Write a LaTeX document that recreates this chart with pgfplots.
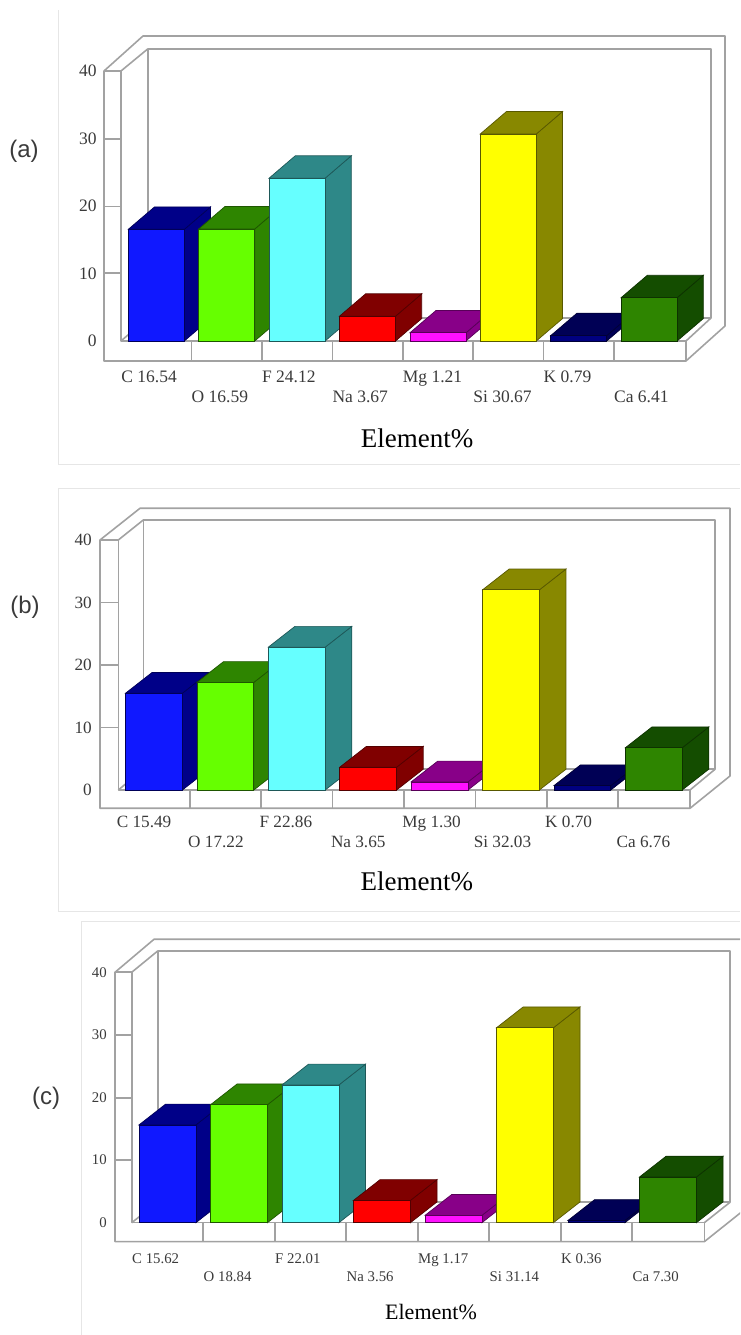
\documentclass[border=0pt]{standalone}
\usepackage{pgfplots}
\pgfplotsset{compat=1.18}
\usepackage{fontspec}
\setmainfont{Liberation Serif}
\newfontfamily\lblsans{Liberation Sans}
\definecolor{cC}{HTML}{1018FF}\definecolor{dC}{HTML}{000088}
\definecolor{cO}{HTML}{66FF00}\definecolor{dO}{HTML}{2E8500}
\definecolor{cF}{HTML}{66FFFF}\definecolor{dF}{HTML}{2E8888}
\definecolor{cNa}{HTML}{FF0000}\definecolor{dNa}{HTML}{800000}
\definecolor{cMg}{HTML}{FF10FF}\definecolor{dMg}{HTML}{880088}
\definecolor{cSi}{HTML}{FFFF00}\definecolor{dSi}{HTML}{888800}
\definecolor{cK}{HTML}{000080}\definecolor{dK}{HTML}{000055}
\definecolor{cCa}{HTML}{2E8500}\definecolor{dCa}{HTML}{144D00}
\definecolor{framegray}{HTML}{A2A2A2}
\definecolor{panelgray}{HTML}{E6E6E6}
\definecolor{labelgray}{HTML}{3A3A3A}
% one 3-D bar: index, value, front colour, dark colour
\newcommand{\threebar}[4]{%
  \pgfmathsetmacro\xa{#1-0.398}\pgfmathsetmacro\xb{#1+0.398}%
  \pgfmathsetmacro\xc{#1+0.77}\pgfmathsetmacro\xd{#1-0.026}%
  \pgfmathsetmacro\yt{#2+3.32}%
  \edef\tmp{%
    \noexpand\addplot[fill=#4,draw=#4!65!black,line width=.7pt,forget plot] coordinates {(\xb,0) (\xc,3.32) (\xc,\yt) (\xb,#2)} --cycle;
    \noexpand\addplot[fill=#4,draw=#4!65!black,line width=.7pt,forget plot] coordinates {(\xa,#2) (\xb,#2) (\xc,\yt) (\xd,\yt)} --cycle;
    \noexpand\addplot[fill=#3,draw=#4!65!black,line width=.7pt,forget plot] coordinates {(\xa,0) (\xb,0) (\xb,#2) (\xa,#2)} --cycle;
  }\tmp}
\pgfplotsset{panel/.style={
  scale only axis, clip=false,
  xmin=-0.5, xmax=7.5, ymin=0, ymax=40,
  axis line style={draw=none},
  tick style={draw=none},
  ytick={0,10,20,30,40},
  xtick={-0.5,1.5,3.5,5.5},
  extra x ticks={0.5,2.5,4.5,6.5},
  /pgf/number format/assume math mode=true,
  y tick label style={text=labelgray},
}}
\begin{document}
\begin{tikzpicture}[x=1pt,y=1pt]
\useasboundingbox (0,0) rectangle (740,1335);
\clip (0,0) rectangle (740,1335);
\begin{scope}[shift={(0pt,1335pt)},y=-1pt]
  % panel borders
  \draw[panelgray,line width=1pt] (58,10) -- (58,465) -- (740,465);
  \draw[panelgray,line width=1pt] (740,489) -- (58,489) -- (58,912) -- (740,912);
  \draw[panelgray,line width=1pt] (740,922) -- (81.7,922) -- (81.7,1335);
  % frame (a)
  \begin{scope}[framegray,line width=1.6pt,line join=round]
    \draw (104,71) -- (104,361) -- (686,361) -- (725,326) -- (725,36) -- (143,36) -- cycle;
    \draw (104,71) -- (121,71) -- (121,341) -- (686,341) -- (686,361);
    \draw (121,71) -- (147.7,49) -- (711,49) -- (711,318) -- (686,341);
    \draw (147.7,49) -- (147.7,318) -- (711,318);
    \draw (121,341) -- (147.7,318);
    \foreach \y in {139,206.5,273.3} \draw (104,\y) -- (121,\y);
    \foreach \i in {1,...,7} \draw ({121.1+70.4*\i},341) -- ({121.1+70.4*\i},361);
    % frame (b)
    \draw (100,540) -- (100,808.3) -- (690,808.3) -- (730,776) -- (730,508.3) -- (140,508.3) -- cycle;
    \draw (100,540) -- (118.3,540) -- (118.3,790) -- (690,790) -- (690,808.3);
    \draw (118.3,540) -- (143.3,520) -- (715,520) -- (715,769.3) -- (690,790);
    \draw (143.3,520) -- (143.3,769.3) -- (715,769.3);
    \draw (118.3,790) -- (143.3,769.3);
    \foreach \y in {602.5,665,727.5} \draw (100,\y) -- (118.3,\y);
    \foreach \i in {1,...,7} \draw ({118.3+71.4*\i},790) -- ({118.3+71.4*\i},808.3);
    % frame (c)
    \draw (115,972.3) -- (115,1241.7) -- (704.3,1241.7) -- (744,1210) -- (744,939.3) -- (154,939.3) -- cycle;
    \draw (115,972.3) -- (131.7,972.3) -- (131.7,1222.7) -- (704.3,1222.7) -- (704.3,1241.7);
    \draw (131.7,972.3) -- (157.7,951) -- (730,951) -- (730,1202.3) -- (704.3,1222.7);
    \draw (157.7,951) -- (157.7,1202.3) -- (730,1202.3);
    \draw (131.7,1222.7) -- (157.7,1202.3);
    \foreach \y in {1035,1097.8,1160.2} \draw (115,\y) -- (131.7,\y);
    \foreach \i in {1,...,7} \draw ({131.7+71.5*\i},1222.7) -- ({131.7+71.5*\i},1241.7);
  \end{scope}
  \node[text=labelgray,font=\fontsize{24}{28}\selectfont\lblsans] at (24,151) {(a)};
  \node[text=labelgray,font=\fontsize{24}{28}\selectfont\lblsans] at (25,607) {(b)};
  \node[text=labelgray,font=\fontsize{24}{28}\selectfont\lblsans] at (46,1098) {(c)};
\end{scope}

% ---------- panel (a)
\begin{axis}[panel, at={(121.1pt,994pt)}, anchor=south west, width=563.2pt, height=270pt,
  tick label style={font=\fontsize{17.5}{20}\selectfont},
  y tick label style={xshift=-21pt},
  xticklabels={C 16.54,F 24.12,Mg 1.21,K 0.79},
  extra x tick labels={O 16.59,Na 3.67,Si 30.67,Ca 6.41},
  x tick label style={anchor=west,text=labelgray,text height=0.7em,text depth=0.2em,yshift=-39.2pt,xshift=-3.3pt},
  extra x tick style={x tick label style={yshift=-20pt}},
  xlabel={Element\%},
  xlabel style={at={(axis description cs:0.5,0)},anchor=center,xshift=14.3pt,yshift=-97pt,font=\fontsize{27}{30}\selectfont},
]
\threebar{0}{16.54}{cC}{dC}
\threebar{1}{16.59}{cO}{dO}
\threebar{2}{24.12}{cF}{dF}
\threebar{3}{3.67}{cNa}{dNa}
\threebar{4}{1.21}{cMg}{dMg}
\threebar{5}{30.67}{cSi}{dSi}
\threebar{6}{0.79}{cK}{dK}
\threebar{7}{6.41}{cCa}{dCa}
\end{axis}

% ---------- panel (b)
\begin{axis}[panel, at={(118.3pt,545pt)}, anchor=south west, width=571.2pt, height=250pt,
  tick label style={font=\fontsize{17.2}{20}\selectfont},
  y tick label style={xshift=-23pt},
  xticklabels={C 15.49,F 22.86,Mg 1.30,K 0.70},
  extra x tick labels={O 17.22,Na 3.65,Si 32.03,Ca 6.76},
  x tick label style={anchor=west,text=labelgray,text height=0.7em,text depth=0.2em,yshift=-35.5pt,xshift=-5pt},
  extra x tick style={x tick label style={yshift=-19.7pt}},
  xlabel={Element\%},
  xlabel style={at={(axis description cs:0.5,0)},anchor=center,xshift=13pt,yshift=-91pt,font=\fontsize{27}{30}\selectfont},
]
\threebar{0}{15.49}{cC}{dC}
\threebar{1}{17.22}{cO}{dO}
\threebar{2}{22.86}{cF}{dF}
\threebar{3}{3.65}{cNa}{dNa}
\threebar{4}{1.30}{cMg}{dMg}
\threebar{5}{32.03}{cSi}{dSi}
\threebar{6}{0.70}{cK}{dK}
\threebar{7}{6.76}{cCa}{dCa}
\end{axis}

% ---------- panel (c)
\begin{axis}[panel, at={(131.7pt,112.3pt)}, anchor=south west, width=572pt, height=250.4pt,
  tick label style={font=\fontsize{14.8}{18}\selectfont},
  y tick label style={xshift=-21.5pt},
  xticklabels={C 15.62,F 22.01,Mg 1.17,K 0.36},
  extra x tick labels={O 18.84,Na 3.56,Si 31.14,Ca 7.30},
  x tick label style={anchor=west,text=labelgray,text height=0.7em,text depth=0.2em,yshift=-38.5pt,xshift=-3pt},
  extra x tick style={x tick label style={yshift=-18pt}},
  xlabel={Element\%},
  xlabel style={at={(axis description cs:0.5,0)},anchor=center,xshift=13.3pt,yshift=-89pt,font=\fontsize{22}{26}\selectfont},
]
\threebar{0}{15.62}{cC}{dC}
\threebar{1}{18.84}{cO}{dO}
\threebar{2}{22.01}{cF}{dF}
\threebar{3}{3.56}{cNa}{dNa}
\threebar{4}{1.17}{cMg}{dMg}
\threebar{5}{31.14}{cSi}{dSi}
\threebar{6}{0.36}{cK}{dK}
\threebar{7}{7.30}{cCa}{dCa}
\end{axis}
\end{tikzpicture}
\end{document}
